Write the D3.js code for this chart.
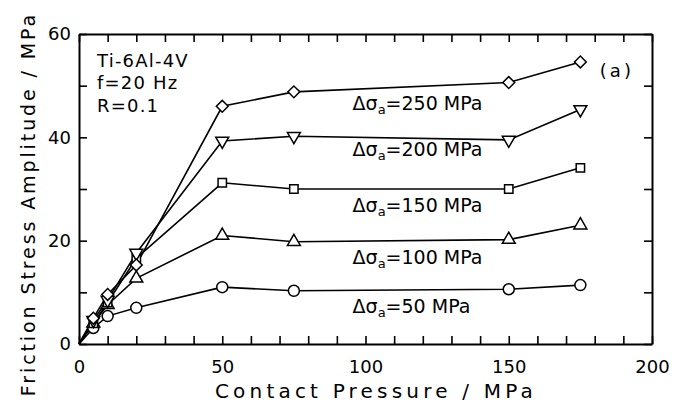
<!DOCTYPE html>
<html>
<head>
<meta charset="utf-8">
<script src="https://cdn.jsdelivr.net/npm/d3@7"></script>
<style>
  body { margin: 0; background: #fff; }
  svg { display: block; font-family: 'DejaVu Sans', sans-serif; }
</style>
</head>
<body>
<div id="chart"></div>
<script>
// contact pressure (MPa) where the points were measured
const pressure = [5, 10, 20, 50, 75, 150, 175]
// friction stress amplitude (MPa) for each stress amplitude
const stress50 = [3.1, 5.4, 7.0, 11.0, 10.3, 10.6, 11.4]
const stress100 = [4.0, 7.6, 12.7, 21.0, 19.8, 20.2, 23.0]
const stress150 = [4.0, 8.0, 16.6, 31.2, 30.0, 30.0, 34.1]
const stress200 = [4.6, 8.5, 17.6, 39.3, 40.2, 39.5, 45.4]
const stress250 = [5.0, 9.6, 15.3, 46.0, 48.8, 50.6, 54.6]
const amplitudes = ['250', '200', '150', '100', '50']
const xTickLabels = [0, 50, 100, 150, 200]
const yTickLabels = [0, 20, 40, 60]
const notes = ['Ti-6Al-4V', 'f=20 Hz', 'R=0.1']

const width = 682
const height = 406
const margin = { top: 34, right: 30, bottom: 62, left: 79 }
const gW = width - margin.left - margin.right
const gH = height - margin.top - margin.bottom

const svg = d3.select('#chart').append('svg')
  .attr('width', width)
  .attr('height', height)

const g = svg.append('g')
  .attr('transform', `translate(${margin.left}, ${margin.top})`)

const x = d3.scaleLinear().domain([0, 200]).range([0, gW])
const y = d3.scaleLinear().domain([0, 60]).range([gH, 0])

// axes: ticks every 10, pointing inward, labels only on the majors
const fmtX = d => xTickLabels.includes(d) ? d : ''
const fmtY = d => yTickLabels.includes(d) ? d : ''
const tickX = d3.range(0, 201, 10)
const tickY = d3.range(0, 61, 10)

g.append('g')
  .attr('transform', `translate(0, ${gH})`)
  .call(d3.axisBottom(x).tickValues(tickX).tickFormat(fmtX).tickSizeInner(-8).tickSizeOuter(0).tickPadding(16))
g.append('g')
  .call(d3.axisTop(x).tickValues(tickX).tickFormat('').tickSizeInner(-8).tickSizeOuter(0))
g.append('g')
  .call(d3.axisLeft(y).tickValues(tickY).tickFormat(fmtY).tickSizeInner(-8).tickSizeOuter(0).tickPadding(8))
g.append('g')
  .attr('transform', `translate(${gW}, 0)`)
  .call(d3.axisRight(y).tickValues(tickY).tickFormat('').tickSizeInner(-8).tickSizeOuter(0))

g.selectAll('.domain').attr('stroke', '#000').attr('stroke-width', 2)
g.selectAll('.tick line').attr('stroke', '#000').attr('stroke-width', 1.6)
g.selectAll('.tick text')
  .attr('font-size', 18)
  .attr('font-family', "'DejaVu Sans', sans-serif")
  .attr('fill', '#000')

// the lines start from the origin
const series = [
  { values: stress50, marker: 'circle' },
  { values: stress100, marker: 'triangleUp' },
  { values: stress150, marker: 'square' },
  { values: stress200, marker: 'triangleDown' },
  { values: stress250, marker: 'diamond' }
]

const line = d3.line()
  .x(d => x(d[0]))
  .y(d => y(d[1]))

series.forEach(s => {
  const pts = [[0, 0]].concat(pressure.map((p, i) => [p, s.values[i]]))
  g.append('path')
    .attr('d', line(pts))
    .attr('fill', 'none')
    .attr('stroke', '#000')
    .attr('stroke-width', 1.6)
})

const symbols = {
  circle: d3.symbol().type(d3.symbolCircle).size(95),
  triangleUp: d3.symbol().type(d3.symbolTriangle).size(72),
  triangleDown: d3.symbol().type(d3.symbolTriangle).size(72),
  square: d3.symbol().type(d3.symbolSquare).size(70),
  diamond: d3.symbol().type(d3.symbolSquare).size(70)
}
const rotate = { circle: 0, triangleUp: 0, triangleDown: 180, square: 0, diamond: 45 }

series.forEach(s => {
  g.append('g').selectAll('path')
    .data(pressure.map((p, i) => [p, s.values[i]]))
    .join('path')
    .attr('d', symbols[s.marker]())
    .attr('transform', d => `translate(${x(d[0])}, ${y(d[1])}) rotate(${rotate[s.marker]})`)
    .attr('fill', '#fff')
    .attr('stroke', '#000')
    .attr('stroke-width', 1.5)
})

// stress amplitude labels
const labelY = [46.6, 37.6, 26.8, 16.7, 7.3]
amplitudes.forEach((a, i) => {
  const t = g.append('text')
    .attr('x', x(95.5))
    .attr('y', y(labelY[i]))
    .attr('dy', '0.35em')
    .attr('font-size', 19)
    .attr('letter-spacing', 0)
  t.append('tspan').text('Δσ')
  t.append('tspan').attr('font-size', 13).attr('dy', 4).text('a')
  t.append('tspan').attr('dy', -4).text(`=${a} MPa`)
})

// material / test conditions
notes.forEach((n, i) => {
  g.append('text')
    .attr('x', x(6.3))
    .attr('y', y(54.8 - i * 4.3))
    .attr('dy', '0.35em')
    .attr('font-size', 18)
    .attr('letter-spacing', 1.2)
    .text(n)
})

g.append('text')
  .attr('x', x(181.8))
  .attr('y', y(52.9))
  .attr('dy', '0.35em')
  .attr('font-size', 18)
  .attr('letter-spacing', 3)
  .text('(a)')

// axis titles
svg.append('text')
  .attr('x', 376)
  .attr('y', 398)
  .attr('text-anchor', 'middle')
  .attr('font-size', 20)
  .attr('letter-spacing', 4.2)
  .text('Contact Pressure / MPa')

svg.append('text')
  .attr('transform', 'translate(35, 204) rotate(-90)')
  .attr('text-anchor', 'middle')
  .attr('font-size', 19)
  .attr('letter-spacing', 2.9)
  .text('Friction Stress Amplitude / MPa')
</script>
</body>
</html>
